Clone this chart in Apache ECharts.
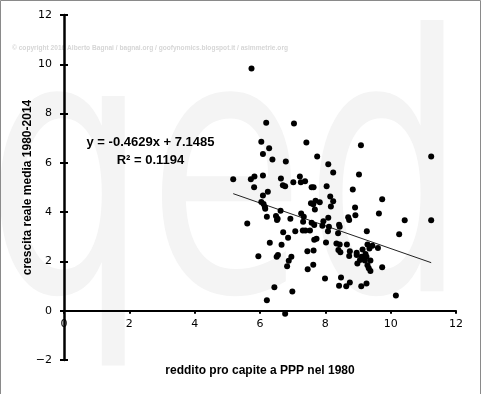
<!DOCTYPE html>
<html>
<head>
<meta charset="utf-8">
<script src="https://cdn.jsdelivr.net/npm/echarts@6/dist/echarts.min.js"></script>
<style>
html,body{margin:0;padding:0;background:#fff;}
#chart{width:482px;height:394px;}
</style>
</head>
<body>
<div id="chart"></div>
<script>
// reddito pro capite a PPP nel 1980 (x) and crescita reale media 1980-2014 (y)
var incomeX = [5.74,6.19,7.04,6.04,7.42,6.28,9.09,6.09,6.38,7.75,
  11.24,6.79,8.09,8.24,9.03,5.18,5.72,5.83,6.09,6.64,
  7.22,7.02,7.25,7.38,6.70,6.77,5.82,7.58,7.64,8.04,
  8.84,6.24,6.09,8.15,9.74,7.70,7.83,8.24,6.04,6.11,
  7.56,7.63,6.15,6.16,8.17,8.91,7.68,6.63,9.64,7.26,
  8.92,6.49,7.34,6.21,6.54,6.93,6.52,8.09,8.70,8.73,
  10.43,11.24,5.61,7.32,7.58,7.66,7.94,7.91,8.42,8.44,
  8.11,8.39,9.27,10.26,7.08,7.31,7.39,7.53,6.71,8.08,
  6.86,7.66,7.73,8.02,6.30,6.66,8.34,8.44,8.66,9.29,
  9.44,9.61,9.14,9.35,8.40,8.46,7.64,7.45,8.75,8.73,
  8.96,8.96,9.23,9.11,9.26,6.55,6.51,6.96,5.95,9.06,
  9.21,9.38,6.88,8.98,9.29,9.33,9.38,9.74,6.83,7.63,
  7.46,7.99,8.48,8.75,9.26,8.42,8.64,9.10,6.44,6.99,
  10.16,6.21,6.77];
var growthY = [9.83,7.63,7.60,6.86,6.83,6.59,6.71,6.36,6.14,6.26,
  6.26,6.06,5.94,5.61,5.53,5.33,5.33,5.45,5.49,5.37,
  5.45,5.21,5.21,5.25,5.09,5.05,5.01,5.01,5.01,5.05,
  4.92,4.83,4.68,4.63,4.52,4.46,4.40,4.44,4.41,4.33,
  4.36,4.32,4.21,4.14,4.23,4.19,4.11,4.06,3.95,3.94,
  3.87,3.84,3.81,3.81,3.73,3.73,3.68,3.77,3.79,3.68,
  3.67,3.67,3.54,3.61,3.57,3.48,3.63,3.45,3.49,3.41,
  3.41,3.14,3.22,3.10,3.22,3.26,3.26,3.26,3.18,3.22,
  2.96,2.88,2.92,2.77,2.76,2.68,2.73,2.69,2.69,2.69,
  2.64,2.54,2.48,2.52,2.46,2.37,2.44,2.41,2.41,2.22,
  2.35,2.26,2.30,2.19,2.19,2.26,2.19,2.19,2.21,2.06,
  2.04,2.04,2.03,1.92,1.85,1.72,1.61,1.76,1.80,1.87,
  1.68,1.31,1.35,1.14,1.10,1.01,0.99,0.99,0.95,0.78,
  0.62,0.42,-0.12];
// trend line endpoints (from the displayed equation y = -0.4629x + 7.1485)
var trendX = [5.18, 11.24];
var trendY = [4.75, 1.95];
var xTicks = [0, 2, 4, 6, 8, 10, 12];
var yTicks = [-2, 0, 2, 4, 6, 8, 10, 12];
var xTitle = 'reddito pro capite a PPP nel 1980';
var yTitle = 'crescita reale media 1980-2014';
var eqLine1 = 'y = -0.4629x + 7.1485';
var eqLine2 = 'R² = 0.1194';
var copyrightText = '© copyright 2016 Alberto Bagnai / bagnai.org / goofynomics.blogspot.it / asimmetrie.org';

var points = [];
for (var i = 0; i < Math.min(incomeX.length, growthY.length); i++) points.push([incomeX[i], growthY[i]]);
var trend = trendX.map(function (x, i) { return [x, trendY[i]]; });

var GRID_TOP = 15, GRID_BOTTOM = 34, H = 394;
var yMin = yTicks[0], yMax = yTicks[yTicks.length - 1];
var plotH = H - GRID_TOP - GRID_BOTTOM;
// shift the x axis up so that it sits on y = 0
var xAxisOffset = -plotH * (0 - yMin) / (yMax - yMin);

var chart = echarts.init(document.getElementById('chart'), null, {renderer: 'canvas'});
var labelFont = {fontFamily: 'DejaVu Sans', fontSize: 11, color: '#000'};
var titleFont = {fontFamily: 'Liberation Sans', fontWeight: 'bold', fontSize: 12, color: '#000'};
chart.setOption({
  animation: false,
  backgroundColor: '#fff',
  grid: {left: 64, right: 26, top: GRID_TOP, bottom: GRID_BOTTOM, containLabel: false, outerBoundsMode: 'none'},
  xAxis: {
    type: 'value', min: xTicks[0], max: xTicks[xTicks.length - 1], interval: 2,
    position: 'bottom', offset: xAxisOffset,
    axisLine: {onZero: false, lineStyle: {color: '#000', width: 2}},
    axisTick: {show: true, length: 3, lineStyle: {color: '#000', width: 2}},
    axisLabel: Object.assign({margin: 8}, labelFont),
    splitLine: {show: false},
    name: xTitle, nameLocation: 'middle', nameGap: 54, nameMoveOverlap: false,
    nameTextStyle: titleFont
  },
  yAxis: [{
    type: 'value', min: yMin, max: yMax, interval: 2,
    axisLine: {onZero: false, lineStyle: {color: '#000', width: 2.5}},
    axisTick: {show: true, length: 4, lineStyle: {color: '#000', width: 2}},
    axisLabel: Object.assign({margin: 12, formatter: function (v) { return String(v).replace('-', '\u2212'); }}, labelFont),
    splitLine: {show: false},
    name: yTitle, nameLocation: 'middle', nameGap: 30, nameRotate: 90, nameMoveOverlap: false,
    nameTextStyle: titleFont
  }, {
    type: 'value', min: yMin, max: yMax, interval: 2, position: 'left',
    axisLine: {show: false, onZero: false},
    axisTick: {show: true, inside: true, length: 4, lineStyle: {color: '#000', width: 2}},
    axisLabel: {show: false}, splitLine: {show: false}
  }],
  graphic: [
    {type: 'text', z: -10, silent: true, x: -14, y: 20, scaleX: 0.75, scaleY: 1.05,
     style: {text: 'qed', fontFamily: 'DejaVu Sans', fontSize: 340, fontWeight: 'normal', fill: '#f4f4f4', verticalAlign: 'top'}},
    {type: 'text', z: -5, silent: true, x: 12, y: 48,
     style: {text: copyrightText, fontFamily: 'Liberation Sans', fontSize: 6.6, fontWeight: 'bold', fill: '#d6d6d6', verticalAlign: 'middle'}},
    {type: 'text', z: 100, x: 150.5, y: 142,
     style: {text: eqLine1, fontFamily: 'Liberation Sans', fontSize: 13, fontWeight: 'bold', fill: '#000', align: 'center', verticalAlign: 'middle'}},
    {type: 'text', z: 100, x: 150.5, y: 160,
     style: {text: eqLine2, fontFamily: 'Liberation Sans', fontSize: 13, fontWeight: 'bold', fill: '#000', align: 'center', verticalAlign: 'middle'}},
    {type: 'polyline', z: 200, silent: true, shape: {points: [[0.5, 394], [0.5, 0.5], [480.5, 0.5], [480.5, 394]]},
     style: {stroke: '#8a8a8a', lineWidth: 1, fill: null}}
  ],
  series: [{
    type: 'scatter', data: points, symbol: 'circle', symbolSize: 6,
    itemStyle: {color: '#000', opacity: 1}, z: 3
  }, {
    type: 'line', data: trend, symbol: 'none', lineStyle: {color: '#222', width: 1}, z: 2
  }]
});
</script>
</body>
</html>
